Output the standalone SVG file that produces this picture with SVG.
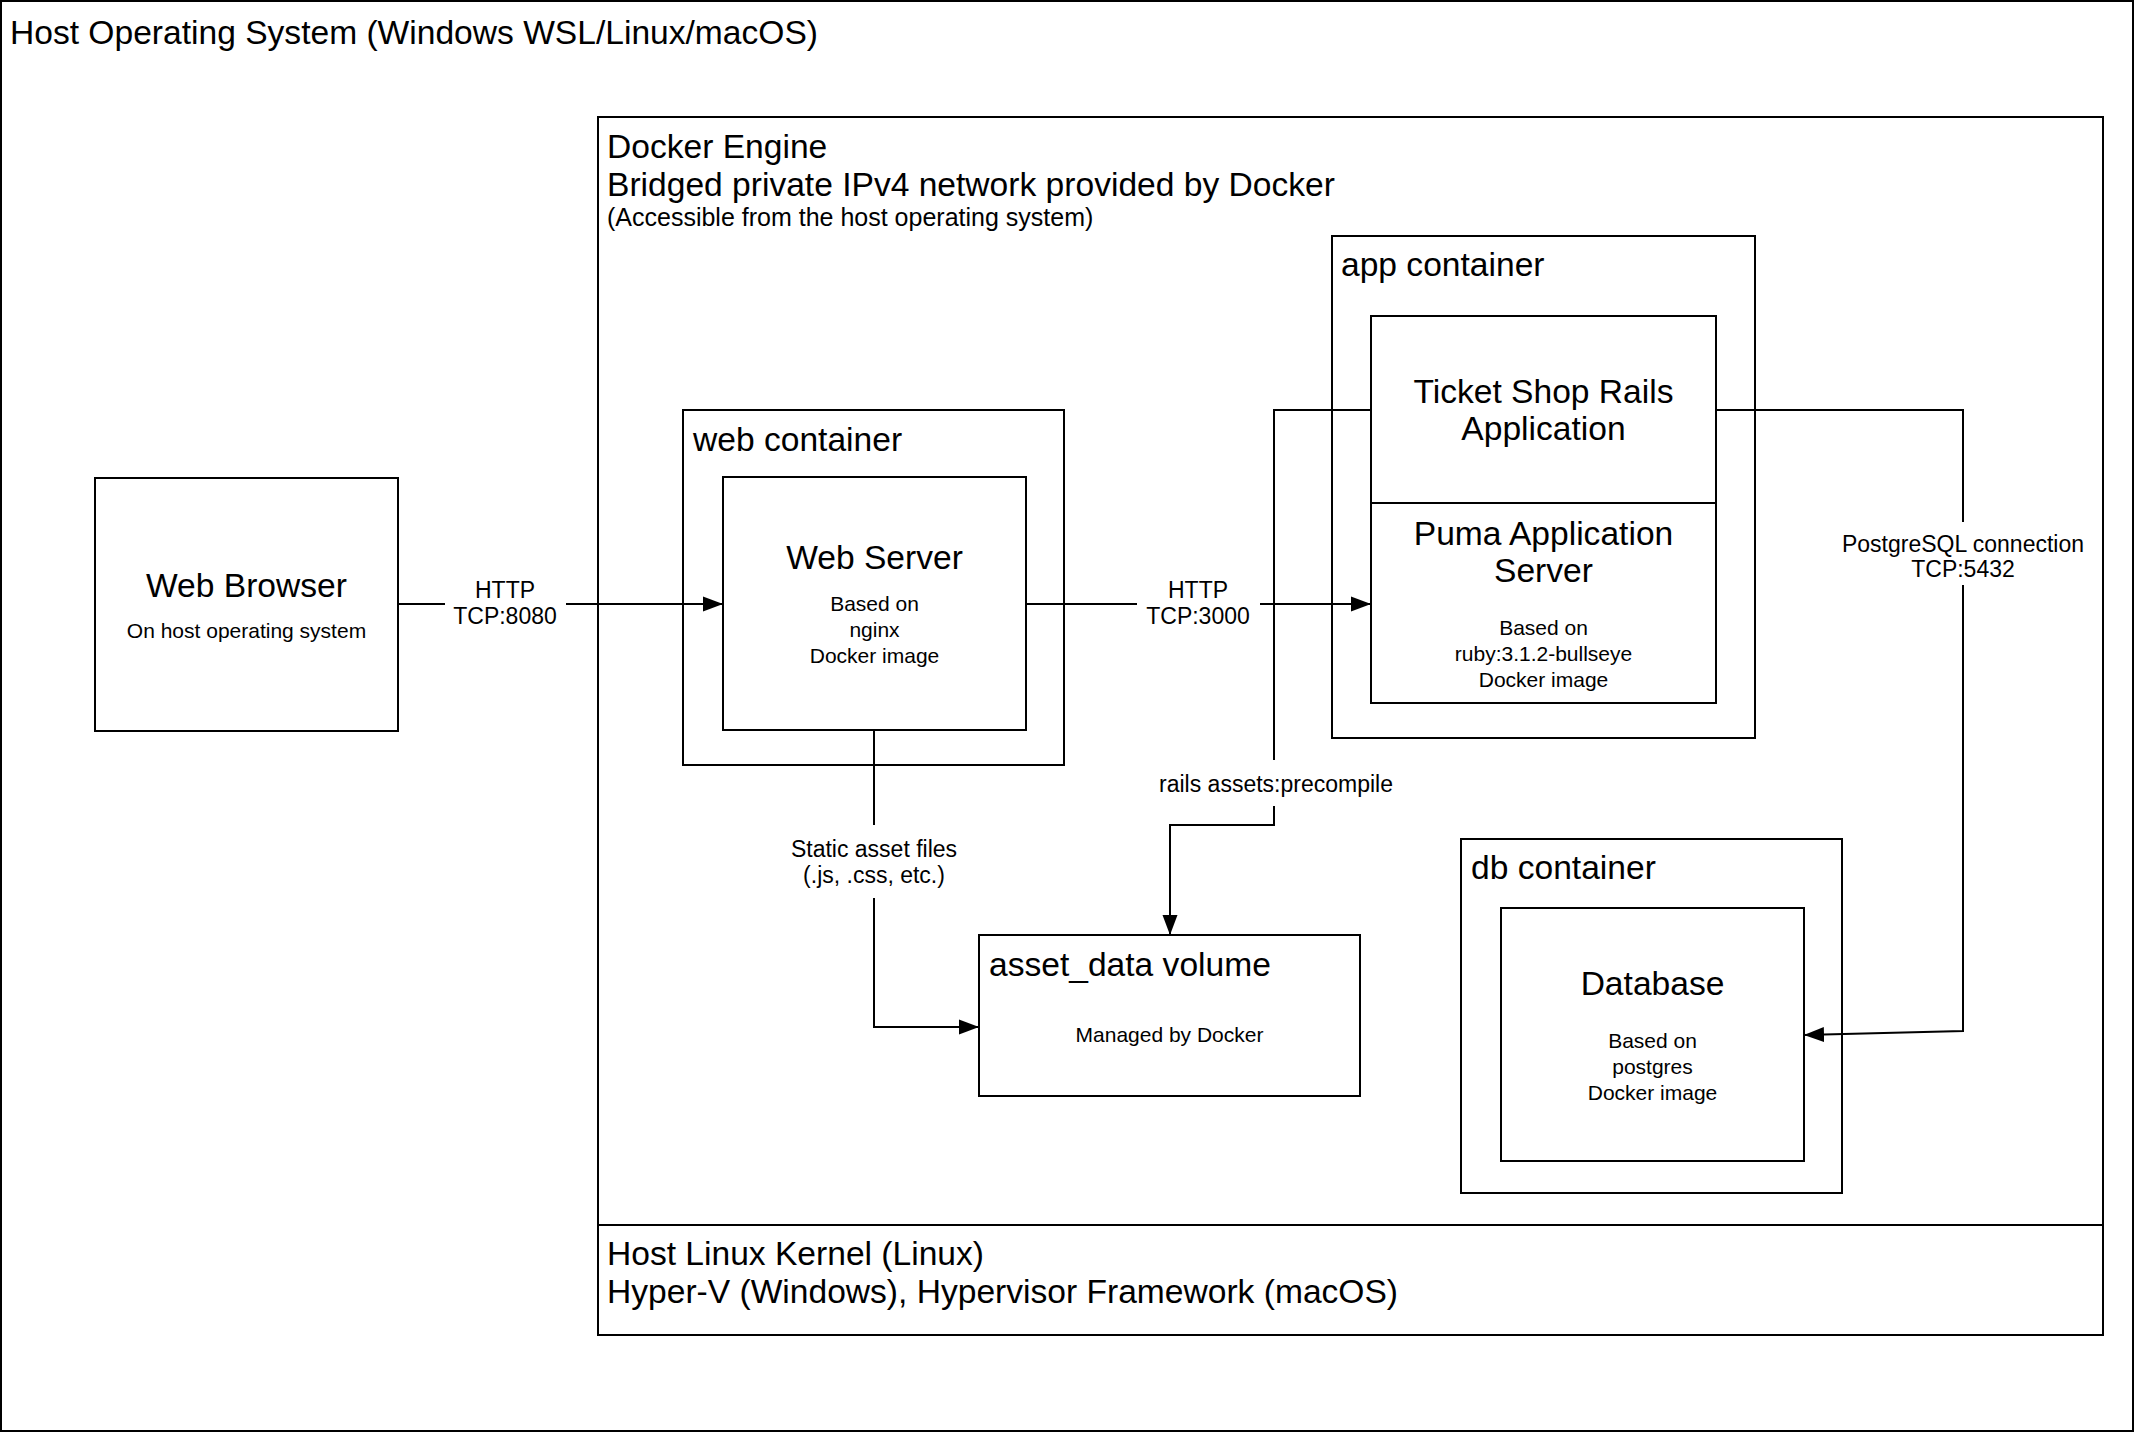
<svg xmlns="http://www.w3.org/2000/svg" width="2135" height="1433" viewBox="0 0 2135 1433">
<style>
.box{fill:#fff;stroke:#000;stroke-width:2}
.ln{fill:none;stroke:#000;stroke-width:2}
.bg{fill:#fff;stroke:none}
text{font-family:"Liberation Sans",Arial,Helvetica,sans-serif;fill:#000}
.t33{font-size:33.6px}
.t25{font-size:25px}
.t23{font-size:23px}
.t21{font-size:21px}
.c{text-anchor:middle}
</style>
<defs>
<marker id="arr" markerUnits="userSpaceOnUse" markerWidth="20" markerHeight="16" refX="20" refY="8" orient="auto"><path d="M0,0.5 L20,8 L0,15.5 z" fill="#000"/></marker>
</defs>
<g id="host-os">
<rect class="box" x="1" y="1" width="2132" height="1430"/>
<text class="t33" x="10" y="44">Host Operating System (Windows WSL/Linux/macOS)</text>
</g>
<g id="docker-engine">
<rect class="box" x="598" y="117" width="1505" height="1108"/>
<text class="t33" x="607" y="158">Docker Engine</text>
<text class="t33" x="607" y="196">Bridged private IPv4 network provided by Docker</text>
<text class="t25" x="607" y="226">(Accessible from the host operating system)</text>
</g>
<g id="host-kernel">
<rect class="box" x="598" y="1225" width="1505" height="110"/>
<text class="t33" x="607" y="1265">Host Linux Kernel (Linux)</text>
<text class="t33" x="607" y="1303">Hyper-V (Windows), Hypervisor Framework (macOS)</text>
</g>
<g id="web-browser">
<rect class="box" x="95" y="478" width="303" height="253"/>
<text class="t33 c" x="246.5" y="597">Web Browser</text>
<text class="t21 c" x="246.5" y="638">On host operating system</text>
</g>
<g id="web-container">
<rect class="box" x="683" y="410" width="381" height="355"/>
<text class="t33" x="693" y="451">web container</text>
</g>
<g id="web-server">
<rect class="box" x="723" y="477" width="303" height="253"/>
<text class="t33 c" x="874.5" y="569">Web Server</text>
<text class="t21 c" x="874.5" y="611">Based on</text>
<text class="t21 c" x="874.5" y="637">nginx</text>
<text class="t21 c" x="874.5" y="663">Docker image</text>
</g>
<g id="app-container">
<rect class="box" x="1332" y="236" width="423" height="502"/>
<text class="t33" x="1341" y="276">app container</text>
</g>
<g id="ticket-shop">
<rect class="box" x="1371" y="316" width="345" height="187"/>
<text class="t33 c" x="1543.5" y="403">Ticket Shop Rails</text>
<text class="t33 c" x="1543.5" y="440">Application</text>
</g>
<g id="puma">
<rect class="box" x="1371" y="503" width="345" height="200"/>
<text class="t33 c" x="1543.5" y="545">Puma Application</text>
<text class="t33 c" x="1543.5" y="582">Server</text>
<text class="t21 c" x="1543.5" y="635">Based on</text>
<text class="t21 c" x="1543.5" y="661">ruby:3.1.2-bullseye</text>
<text class="t21 c" x="1543.5" y="687">Docker image</text>
</g>
<g id="db-container">
<rect class="box" x="1461" y="839" width="381" height="354"/>
<text class="t33" x="1471" y="879">db container</text>
</g>
<g id="database">
<rect class="box" x="1501" y="908" width="303" height="253"/>
<text class="t33 c" x="1652.5" y="995">Database</text>
<text class="t21 c" x="1652.5" y="1048">Based on</text>
<text class="t21 c" x="1652.5" y="1074">postgres</text>
<text class="t21 c" x="1652.5" y="1100">Docker image</text>
</g>
<g id="asset-data">
<rect class="box" x="979" y="935" width="381" height="161"/>
<text class="t33" x="989" y="976">asset_data volume</text>
<text class="t21 c" x="1169.5" y="1042">Managed by Docker</text>
</g>
<g id="connectors">
<path class="ln" d="M398,604 H723" marker-end="url(#arr)"/>
<rect class="bg" x="445" y="596" width="121" height="16"/>
<text class="t23 c" x="505" y="598">HTTP</text>
<text class="t23 c" x="505" y="624">TCP:8080</text>
<path class="ln" d="M1026,604 H1371" marker-end="url(#arr)"/>
<rect class="bg" x="1137" y="596" width="123" height="16"/>
<text class="t23 c" x="1198" y="598">HTTP</text>
<text class="t23 c" x="1198" y="624">TCP:3000</text>
<path class="ln" d="M874,730 V1027 H979" marker-end="url(#arr)"/>
<rect class="bg" x="866" y="825" width="16" height="73"/>
<text class="t23 c" x="874" y="857">Static asset files</text>
<text class="t23 c" x="874" y="883">(.js, .css, etc.)</text>
<path class="ln" d="M1371,410 H1274 V825 H1170 V935" marker-end="url(#arr)"/>
<rect class="bg" x="1266" y="760" width="16" height="46"/>
<text class="t23 c" x="1276" y="792">rails assets:precompile</text>
<path class="ln" d="M1716,410 H1963 V1031 L1804,1035" marker-end="url(#arr)"/>
<rect class="bg" x="1955" y="522" width="16" height="63"/>
<text class="t23 c" x="1963" y="552">PostgreSQL connection</text>
<text class="t23 c" x="1963" y="577">TCP:5432</text>
</g>
</svg>
